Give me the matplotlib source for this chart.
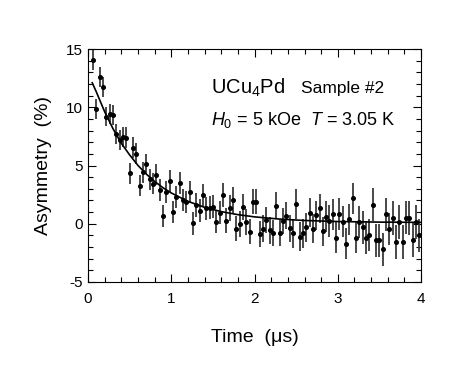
import numpy as np
import matplotlib
matplotlib.use("Agg")
import matplotlib.pyplot as plt
from matplotlib.ticker import MultipleLocator

plt.rcParams['font.family'] = ['Liberation Sans', 'DejaVu Sans']
plt.rcParams['mathtext.fontset'] = 'custom'
plt.rcParams['mathtext.rm'] = 'Liberation Sans'
plt.rcParams['mathtext.it'] = 'Liberation Sans:italic'
plt.rcParams['axes.unicode_minus'] = False

# time bins (us)
time = [0.06, 0.10, 0.14, 0.18, 0.22, 0.26, 0.30, 0.34, 0.38, 0.42,
        0.46, 0.50, 0.54, 0.58, 0.62, 0.66, 0.70, 0.74, 0.78, 0.82,
        0.86, 0.90, 0.94, 0.98, 1.02, 1.06, 1.10, 1.14, 1.18, 1.22,
        1.26, 1.30, 1.34, 1.38, 1.42, 1.46, 1.50, 1.54, 1.58, 1.62,
        1.66, 1.70, 1.74, 1.78, 1.82, 1.86, 1.90, 1.94, 1.98, 2.02,
        2.06, 2.10, 2.14, 2.18, 2.22, 2.26, 2.30, 2.34, 2.38, 2.42,
        2.46, 2.50, 2.54, 2.58, 2.62, 2.66, 2.70, 2.74, 2.78, 2.82,
        2.86, 2.90, 2.94, 2.98, 3.02, 3.06, 3.10, 3.14, 3.18, 3.22,
        3.26, 3.30, 3.34, 3.38, 3.42, 3.46, 3.50, 3.54, 3.58, 3.62,
        3.66, 3.70, 3.74, 3.78, 3.82, 3.86, 3.90, 3.94, 3.98]

# asymmetry (%)
asym = [14.06, 9.83, 12.60, 11.74, 9.20, 9.43, 9.34, 7.71, 7.19, 7.45,
        7.39, 4.33, 6.54, 5.99, 3.25, 4.42, 5.13, 3.82, 3.42, 4.19,
        2.90, 0.70, 2.76, 3.70, 0.98, 2.33, 3.48, 2.04, 1.87, 2.70,
        0.04, 1.60, 1.13, 2.45, 1.33, 1.39, 1.47, 0.18, 0.95, 2.47,
        0.27, 1.33, 2.04, -0.42, -0.02, 1.42, 0.15, -0.68, 1.90, 1.90,
        -0.88, -0.42, 0.33, -0.56, -0.79, 1.55, -0.79, 0.24, 0.70, -0.39,
        -0.82, 1.70, -1.10, -0.82, -0.30, 0.95, -0.42, 0.73, 1.33, -0.65,
        0.61, 0.24, 0.81, -1.19, 0.84, 0.18, -1.71, 0.38, 2.19, -1.19,
        0.15, -0.30, -1.19, -0.96, 1.64, -1.42, -1.42, -2.19, 0.81, -0.45,
        0.47, -1.56, 0.13, -1.56, 0.53, 0.47, -1.42, 0.18, -1.00]

# error bars, growing with time
err = ([0.85] * 10 + [0.9] * 10 + [0.95] * 10 + [1.0] * 10 + [1.1] * 10 +
       [1.15] * 10 + [1.25] * 10 + [1.35] * 10 + [1.4] * 10 + [1.45] * 9)

# fit curve
fit_t = [0.05, 0.1, 0.2, 0.3, 0.4, 0.5, 0.6, 0.7, 0.8, 0.9, 1.0,
         1.2, 1.4, 1.6, 1.8, 2.0, 2.3, 2.6, 3.0, 3.5, 4.0]
fit_a = [12.1, 11.3, 9.6, 8.15, 6.9, 5.9, 5.0, 4.26, 3.63, 3.09, 2.64,
         1.92, 1.41, 1.04, 0.78, 0.59, 0.40, 0.28, 0.19, 0.14, 0.12]

fig = plt.figure(figsize=(4.71, 3.77), dpi=100)
ax = fig.add_axes([0.187, 0.252, 0.707, 0.618])

ax.errorbar(time, asym, yerr=err, fmt='o', ms=2.6, color='black',
            ecolor='#3a3a3a', elinewidth=1.3, capsize=0)
ax.plot(fit_t, fit_a, color='black', lw=1.2)

ax.set_xlim(0, 4)
ax.set_ylim(-5, 15)
ax.xaxis.set_major_locator(MultipleLocator(1))
ax.xaxis.set_minor_locator(MultipleLocator(0.2))
ax.yaxis.set_major_locator(MultipleLocator(5))
ax.yaxis.set_minor_locator(MultipleLocator(1))
ax.tick_params(which='both', direction='in', top=True, right=True,
               labelsize=11, width=0.8)
ax.tick_params(axis='x', which='both', pad=7)
ax.tick_params(axis='y', which='both', pad=4)
ax.tick_params(which='major', length=6)
ax.tick_params(which='minor', length=3.5)
for s in ax.spines.values():
    s.set_linewidth(0.8)

ax.set_xlabel("Time  (μs)", fontsize=14, labelpad=17)
ax.set_ylabel("Asymmetry  (%)", fontsize=14, labelpad=10)

ax.text(0.37, 0.81, r"UCu$_4$Pd", transform=ax.transAxes, fontsize=14.5)
ax.text(0.64, 0.81, "Sample #2", transform=ax.transAxes, fontsize=12.5)
ax.text(0.37, 0.675, r"$\mathit{H}_0$ = 5 kOe  $\mathit{T}$ = 3.05 K",
        transform=ax.transAxes, fontsize=13)

fig.savefig("out.png", dpi=100)
